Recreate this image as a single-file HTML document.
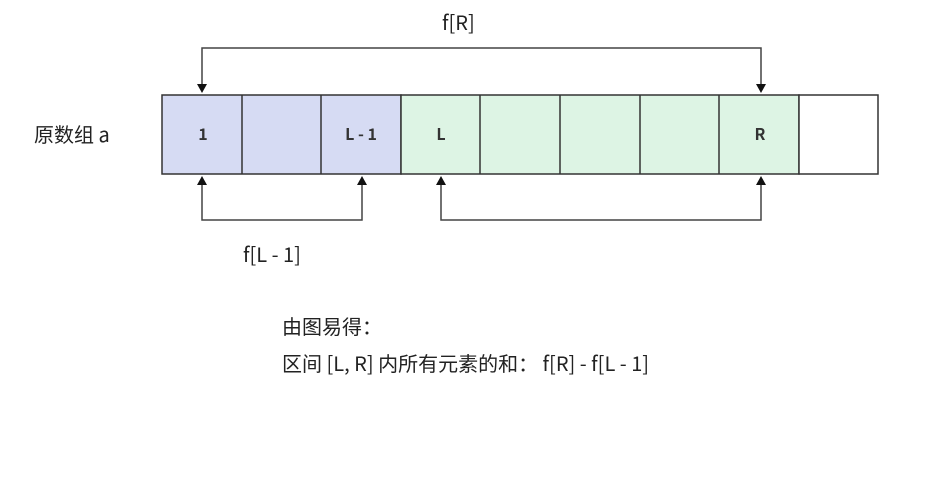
<!DOCTYPE html>
<html><head><meta charset="utf-8"><style>
body{margin:0;background:#fff;width:931px;height:484px;overflow:hidden}
</style></head><body>
<svg width="931" height="484" xmlns="http://www.w3.org/2000/svg" font-family="'Noto Sans CJK SC','Liberation Sans',sans-serif">
<rect width="931" height="484" fill="#fff"/>
<g stroke="#333" stroke-width="1.5">
<rect x="162" y="95" width="239" height="79" fill="#d6dbf3"/>
<rect x="401" y="95" width="398" height="79" fill="#ddf4e4"/>
<rect x="799" y="95" width="79" height="79" fill="#fff"/>
<line x1="242" y1="95" x2="242" y2="174"/><line x1="321" y1="95" x2="321" y2="174"/>
<line x1="480" y1="95" x2="480" y2="174"/><line x1="560" y1="95" x2="560" y2="174"/>
<line x1="640" y1="95" x2="640" y2="174"/><line x1="719" y1="95" x2="719" y2="174"/>
</g>
<g stroke="#444" stroke-width="1.5" fill="none">
<polyline points="202,86 202,48 761,48 761,86"/>
<polyline points="202,184 202,220 362,220 362,184"/>
<polyline points="441,184 441,220 761,220 761,184"/>
</g>
<g fill="#111">
<polygon points="197,84 207,84 202,93"/><polygon points="756,84 766,84 761,93"/>
<polygon points="197,185 207,185 202,176"/><polygon points="357,185 367,185 362,176"/>
<polygon points="436,185 446,185 441,176"/><polygon points="756,185 766,185 761,176"/>
</g>
<g font-size="16" font-weight="bold" fill="#333" text-anchor="middle">
<text x="203" y="140">1</text><text x="361" y="140">L - 1</text>
<text x="441" y="140">L</text><text x="760" y="140">R</text>
</g>
<g font-size="20" fill="#222">
<text x="34" y="142">原数组 a</text>
<text x="442" y="30">f[R]</text>
<text x="243" y="262">f[L - 1]</text>
<text x="282" y="334">由图易得：</text>
<text x="282" y="371">区间 [L, R] 内所有元素的和： f[R] - f[L - 1]</text>
</g>
</svg>
</body></html>
